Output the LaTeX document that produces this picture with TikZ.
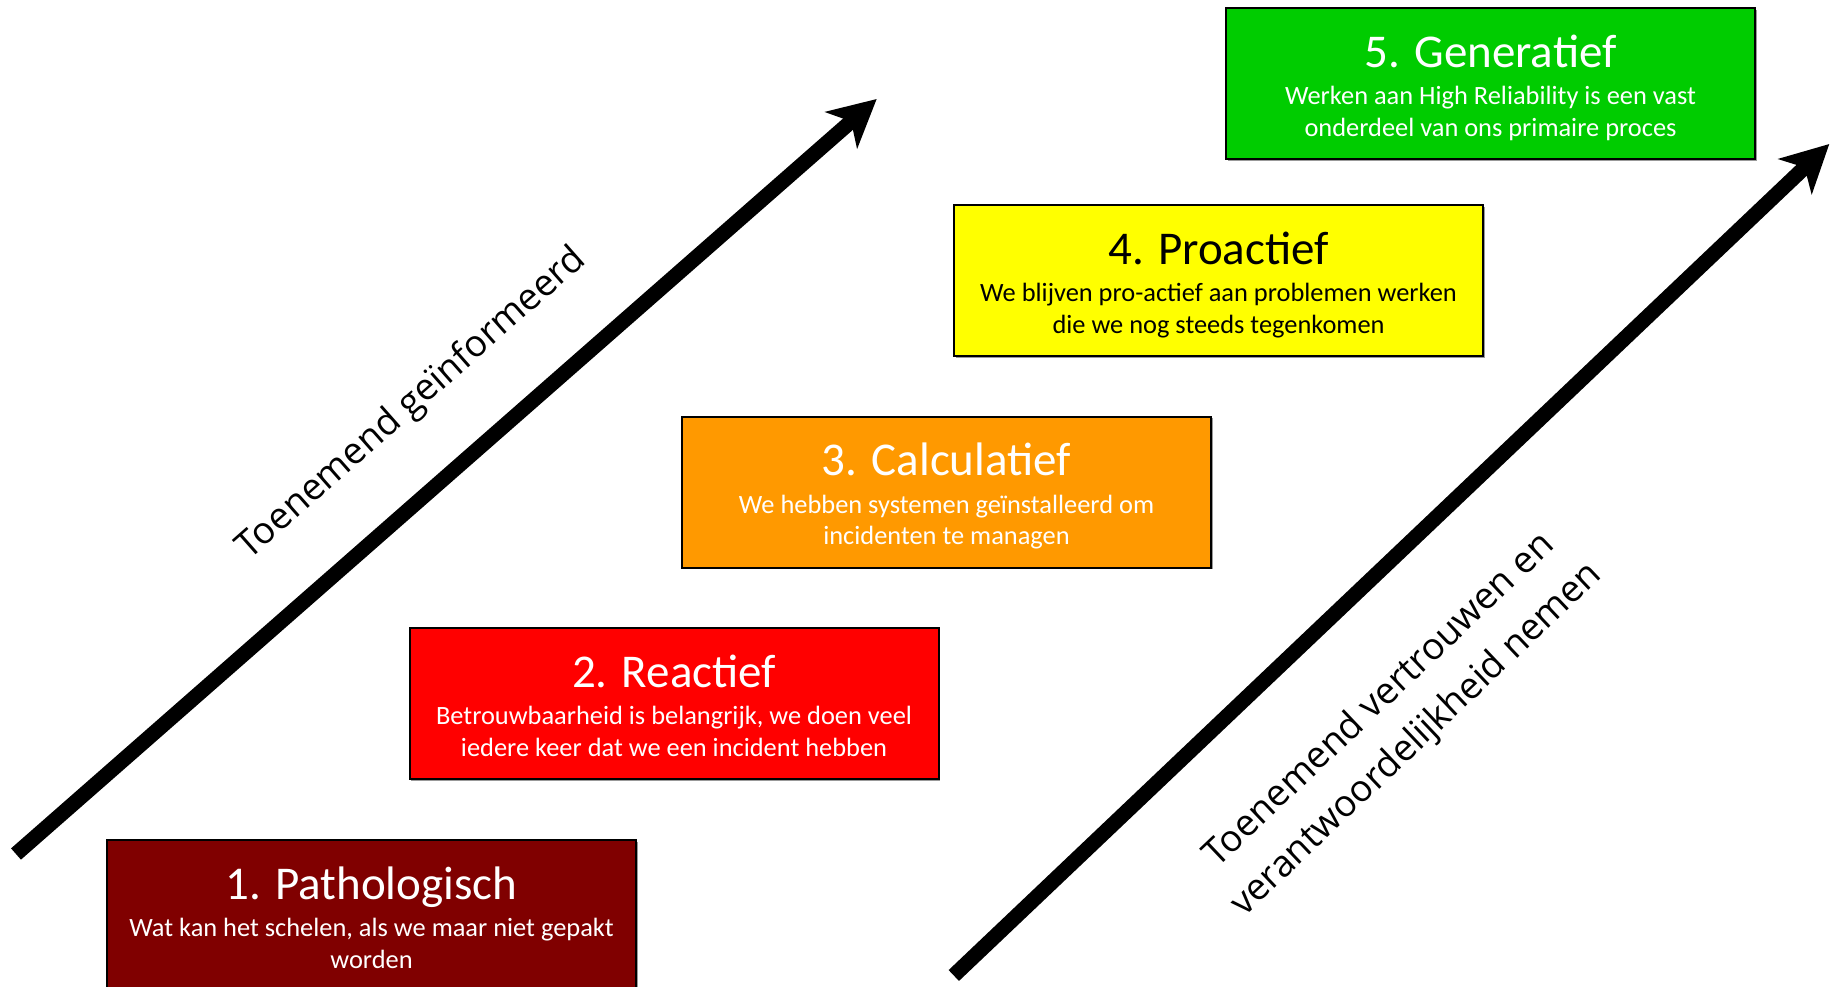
\documentclass[tikz,border=0pt]{standalone}
\usepackage{fontspec}
\setmainfont{Carlito}
\newfontfamily\labelfont{Open Sans}
\usetikzlibrary{arrows.meta,shadows}
\definecolor{cpath}{HTML}{800000}
\definecolor{creact}{HTML}{FF0000}
\definecolor{ccalc}{HTML}{FF9900}
\definecolor{cpro}{HTML}{FFFF00}
\definecolor{cgen}{HTML}{00CC00}
\begin{document}
\begin{tikzpicture}[x=1pt,y=-1pt,
  stage/.style={draw=black, line width=2pt, minimum width=529pt, minimum height=151pt,
    inner sep=0pt, anchor=north west,
    drop shadow={shadow xshift=1.5pt,shadow yshift=-1.5pt,fill=black!40,opacity=1}},
  ttl/.style={anchor=base, font=\fontsize{47}{56}\selectfont, inner sep=0pt},
  sub/.style={anchor=base, font=\fontsize{26.4}{32}\selectfont, inner sep=0pt},
  bigarrow/.style={line width=15pt, -{Stealth[length=47pt,width=48pt,inset=13pt]}},
  diag/.style={font=\labelfont\fontsize{37}{54}\selectfont, align=center, inner sep=0pt}]
\useasboundingbox (0,0) rectangle (1835,987);
\fill[white] (0,0) rectangle (1835,987);

% arrows
\coordinate (a1s) at (16,854);
\coordinate (a1e) at (876.7,99);
\coordinate (a2s) at (953.8,975.5);
\coordinate (a2e) at (1829.3,144);
\draw[bigarrow] (a1s) -- (a1e);
\draw[bigarrow] (a2s) -- (a2e);

% boxes
\node[stage, fill=cpath]  (b1) at (106,839) {};
\node[stage, fill=creact] (b2) at (408.5,627) {};
\node[stage, fill=ccalc]  (b3) at (681,415.5) {};
\node[stage, fill=cpro]   (b4) at (953,204) {};
\node[stage, fill=cgen]   (b5) at (1225,7.5) {};

\begin{scope}[white]
\node[ttl] (t1) at ([yshift=-60pt]b1.north) {1. Pathologisch};
\node[sub] (s1a) at ([yshift=-97.5pt]b1.north) {Wat kan het schelen, als we maar niet gepakt};
\node[sub] (s1b) at ([yshift=-129.3pt]b1.north) {worden};
\node[ttl] (t2) at ([yshift=-60pt]b2.north) {2. Reactief};
\node[sub] (s2a) at ([yshift=-97.5pt]b2.north) {Betrouwbaarheid is belangrijk, we doen veel};
\node[sub] (s2b) at ([yshift=-129.3pt]b2.north) {iedere keer dat we een incident hebben};
\node[ttl] (t3) at ([yshift=-60pt]b3.north) {3. Calculatief};
\node[sub] (s3a) at ([yshift=-97.5pt]b3.north) {We hebben systemen geïnstalleerd om};
\node[sub] (s3b) at ([yshift=-129.3pt]b3.north) {incidenten te managen};
\node[ttl] (t5) at ([yshift=-60pt]b5.north) {5. Generatief};
\node[sub] (s5a) at ([yshift=-97.5pt]b5.north) {Werken aan High Reliability is een vast};
\node[sub] (s5b) at ([yshift=-129.3pt]b5.north) {onderdeel van ons primaire proces};
\end{scope}
\node[ttl, black] (t4) at ([yshift=-60pt]b4.north) {4. Proactief};
\node[sub, black] (s4a) at ([yshift=-97.5pt]b4.north) {We blijven pro-actief aan problemen werken};
\node[sub, black] (s4b) at ([yshift=-129.3pt]b4.north) {die we nog steeds tegenkomen};

% diagonal labels
\node[diag, rotate=41.4] (l1) at (412,404) {Toenemend geïnformeerd};
\node[diag, rotate=43.5] (l2) at (1398.5,720.5) {Toenemend vertrouwen en\\verantwoordelijkheid nemen};
\end{tikzpicture}
\end{document}
